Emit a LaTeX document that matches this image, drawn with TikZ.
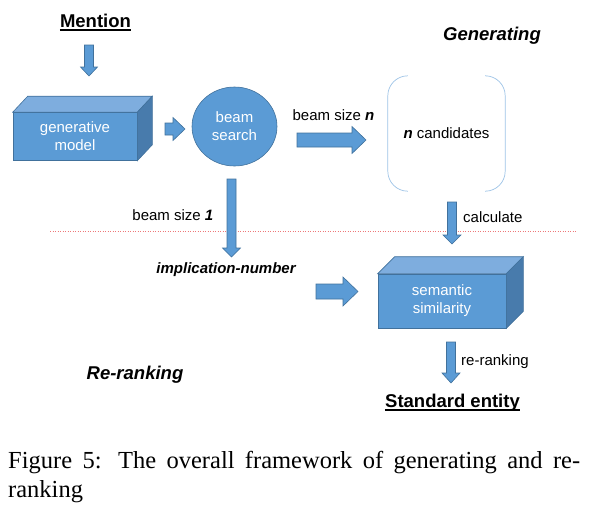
\documentclass[tikz,border=0pt]{standalone}
\usepackage{fontspec}
\setmainfont{Liberation Sans}
\newfontfamily\capfont{Liberation Serif}
\usetikzlibrary{calc,shapes.geometric}

\definecolor{boxblue}{RGB}{91,155,213}
\definecolor{boxtop}{RGB}{126,173,222}
\definecolor{boxside}{RGB}{72,123,172}
\definecolor{boxline}{RGB}{65,113,156}
\definecolor{bracketblue}{RGB}{157,195,230}
\definecolor{splitred}{RGB}{238,120,120}

\tikzset{
	fatarrow/.style={fill=boxblue, draw=boxline, line width=0.6pt, line join=miter},
	frontface/.style={fill=boxblue, draw=boxline, line width=0.6pt, text=white, align=center,
		font=\fontsize{15}{18}\selectfont, inner sep=0pt},
	lbl/.style={font=\fontsize{15}{18}\selectfont, inner sep=0pt},
	heading/.style={font=\fontsize{18.5}{22}\selectfont\bfseries, inner sep=0pt},
	bracket/.style={draw=bracketblue, line width=0.7pt, rounded corners=20pt},
	caption/.style={anchor=base west, inner sep=0pt, font=\capfont\fontsize{24.5}{29}\selectfont}
}

\newcommand{\blockarrow}[5]{%
	\coordinate (ba-h) at ($(#2)!#5!(#1)$);
	\draw[fatarrow] ($(#1)!#3!90:(#2)$) -- ($(ba-h)!#3!90:(#2)$) -- ($(ba-h)!#4!90:(#2)$) -- (#2)
		-- ($(ba-h)!#4!-90:(#2)$) -- ($(ba-h)!#3!-90:(#2)$) -- ($(#1)!#3!-90:(#2)$) -- cycle;
}
\newcommand{\boxdepth}[3]{%
	\draw[fill=boxtop, draw=boxline, line width=0.6pt] (#1.north west) -- ++(#2,-#3)
		-- ($(#1.north east)+(#2,-#3)$) -- (#1.north east) -- cycle;
	\draw[fill=boxside, draw=boxline, line width=0.6pt] (#1.north east) -- ++(#2,-#3)
		-- ($(#1.south east)+(#2,-#3)$) -- (#1.south east) -- cycle;
}

\begin{document}
\begin{tikzpicture}[x=1pt,y=-1pt]
	\useasboundingbox (0,0) rectangle (590,515);

	\node[heading, anchor=base] (mention) at (95.5,27) {Mention};
	\draw[line width=1.2pt] ([yshift=-3pt]mention.base west) -- ([yshift=-3pt]mention.base east);
	\node[heading, anchor=base] (gener) at (492,40) {\itshape Generating};

	\node[frontface, minimum width=124pt, minimum height=48pt] (gen) at (75,136.5) {generative\\model};
	\boxdepth{gen}{15}{16}

	\node[frontface, ellipse, minimum width=85pt, minimum height=79pt] (beam) at (234.5,126.5) {beam\\search};

	\node[lbl, minimum width=117pt, minimum height=115pt] (cand) at (446.5,133.5) {\textbf{\textit{n}} candidates};
	\draw[bracket] ([xshift=20pt]cand.north west) -- (cand.north west) -- (cand.south west) -- ([xshift=20pt]cand.south west);
	\draw[bracket] ([xshift=-19pt]cand.north east) -- (cand.north east) -- (cand.south east) -- ([xshift=-19pt]cand.south east);

	\node[frontface, minimum width=128pt, minimum height=54pt] (sem) at (442,301) {semantic\\similarity};
	\boxdepth{sem}{17}{17}

	\node[lbl, anchor=base] (bsn) at (333.5,120) {beam size \textbf{\textit{n}}};
	\node[lbl, anchor=base west] (calc) at (463,222) {calculate};
	\node[lbl, anchor=base east] (bs1) at (213.5,220) {beam size \textbf{\textit{1}}};
	\node[lbl, anchor=base] (impl) at (226,273) {\bfseries\itshape implication-number};
	\node[lbl, anchor=base west] (rerank) at (461,365) {re-ranking};
	\node[heading, anchor=base] (rr) at (135,379) {\itshape Re-ranking};
	\node[heading, anchor=base] (std) at (452.5,407) {Standard entity};
	\draw[line width=1.2pt] ([yshift=-3pt]std.base west) -- ([yshift=-3pt]std.base east);

	\draw[splitred, dotted, line width=0.5pt] (50,231) -- (577,231);

	\coordinate (m-s) at (89,45);
	\coordinate (m-t) at (89,76);
	\coordinate (g-s) at (165,129);
	\coordinate (g-t) at (185,129);
	\coordinate (n-s) at (297,140);
	\coordinate (n-t) at (366,140);
	\coordinate (c-s) at (452,202);
	\coordinate (c-t) at (452,244);
	\coordinate (b-s) at (231.5,179);
	\coordinate (b-t) at (231.5,257);
	\coordinate (i-s) at (316,291.5);
	\coordinate (i-t) at (358,291.5);
	\coordinate (r-s) at (451,342);
	\coordinate (r-t) at (451,383);
	\blockarrow{m-s}{m-t}{4.5pt}{8.5pt}{9pt}
	\blockarrow{g-s}{g-t}{6pt}{11.5pt}{12pt}
	\blockarrow{n-s}{n-t}{7pt}{13.5pt}{14pt}
	\blockarrow{c-s}{c-t}{4.5pt}{9pt}{9pt}
	\blockarrow{b-s}{b-t}{4.5pt}{9pt}{9pt}
	\blockarrow{i-s}{i-t}{7.5pt}{14.5pt}{15pt}
	\blockarrow{r-s}{r-t}{4.5pt}{9pt}{10pt}

	\node[caption] (cap1) at (8,468) {\makebox[572pt][s]{Figure 5: The overall framework of generating and re-}};
	\node[caption] (cap2) at (8,497) {ranking};
\end{tikzpicture}
\end{document}
